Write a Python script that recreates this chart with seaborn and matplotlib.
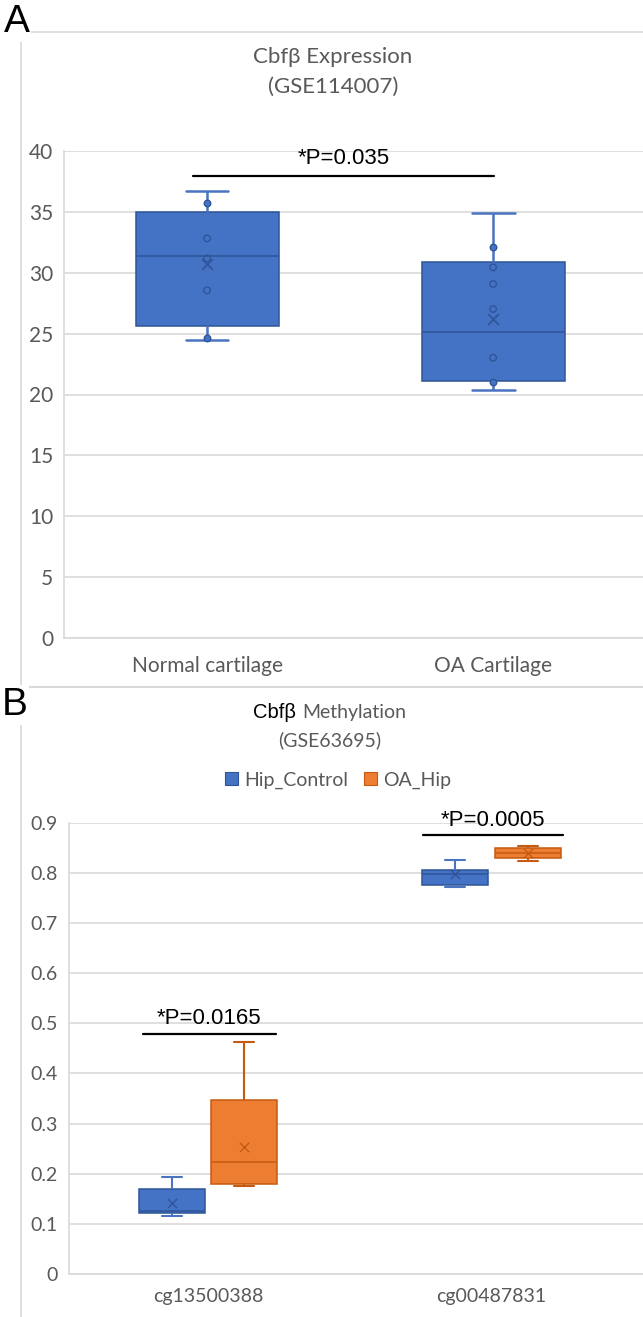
import numpy as np
import pandas as pd
import matplotlib
matplotlib.use("Agg")
import matplotlib.pyplot as plt
from matplotlib.lines import Line2D
from matplotlib.patches import Patch
import seaborn as sns

# ---------------- Panel A data (five-number summaries) ----------------
a_categories = ["Normal cartilage", "OA Cartilage"]
a_min = [24.45, 20.37]
a_q1 = [25.6, 21.1]
a_median = [31.35, 25.1]
a_q3 = [34.95, 30.84]
a_max = [36.67, 34.91]
a_mean = [30.68, 26.19]
a_points_normal = [35.68, 32.81, 31.17, 28.55, 24.66]
a_filled_normal = [True, False, False, False, True]
a_points_oa = [32.07, 30.43, 29.06, 27.01, 23.02, 21.05]
a_filled_oa = [True, False, False, False, False, True]
a_yticks = [0, 5, 10, 15, 20, 25, 30, 35, 40]
a_pvalue = "*P=0.035"

# ---------------- Panel B data ----------------
b_probes = ["cg13500388", "cg00487831"]
b_groups = ["Hip_Control", "OA_Hip"]
b_control_min = [0.116, 0.772]
b_control_q1 = [0.122, 0.776]
b_control_median = [0.126, 0.797]
b_control_q3 = [0.170, 0.806]
b_control_max = [0.194, 0.826]
b_control_mean = [0.142, 0.797]
b_oa_min = [0.176, 0.824]
b_oa_q1 = [0.179, 0.829]
b_oa_median = [0.223, 0.839]
b_oa_q3 = [0.347, 0.849]
b_oa_max = [0.462, 0.854]
b_oa_mean = [0.254, 0.840]
b_yticks = [0, 0.1, 0.2, 0.3, 0.4, 0.5, 0.6, 0.7, 0.8, 0.9]
b_ytick_labels = ["0", "0.1", "0.2", "0.3", "0.4", "0.5", "0.6", "0.7", "0.8", "0.9"]
b_pvalues = ["*P=0.0165", "*P=0.0005"]

# ---------------- styling ----------------
BLUE = "#4472C4"
BLUE_DARK = "#2F5597"
ORANGE = "#ED7D31"
ORANGE_DARK = "#C55A11"
GRID = "#D9D9D9"
TXT = "#595959"
ARIAL = ["Liberation Sans", "DejaVu Sans"]

sns.set_theme(style="white")
plt.rcParams["font.family"] = ["Lato", "DejaVu Sans"]

W, H = 643, 1317
fig = plt.figure(figsize=(W / 100, H / 100), dpi=100)


def fx(px):
    return px / W


def fy(py):
    return 1 - py / H


def style_container(cont, edge, whisker, cap_frac=0.3, wlw=1.6):
    """Excel-like colours and short caps for a seaborn BoxPlotContainer."""
    for box in cont.boxes:
        box.set_edgecolor(edge)
    for med in cont.medians:
        med.set_color(edge)
    for w in cont.whiskers:
        w.set_color(whisker)
        w.set_linewidth(wlw)
    boxes = list(cont.boxes)
    caps = list(cont.caps)
    for j, cap in enumerate(caps):
        box = boxes[j // 2]
        xs = box.get_path().vertices[:, 0]
        c = (xs.min() + xs.max()) / 2
        hw = (xs.max() - xs.min()) * cap_frac / 2
        cap.set_xdata([c - hw, c + hw])
        cap.set_color(whisker)
        cap.set_linewidth(wlw)


# long-form tables built from the summaries
rows = []
for i, c in enumerate(a_categories):
    for v in (a_min[i], a_q1[i], a_median[i], a_q3[i], a_max[i]):
        rows.append({"category": c, "value": v})
dfA = pd.DataFrame(rows)

rows = []
for i, p in enumerate(b_probes):
    for v in (b_control_min[i], b_control_q1[i], b_control_median[i], b_control_q3[i], b_control_max[i]):
        rows.append({"probe": p, "group": b_groups[0], "value": v})
    for v in (b_oa_min[i], b_oa_q1[i], b_oa_median[i], b_oa_q3[i], b_oa_max[i]):
        rows.append({"probe": p, "group": b_groups[1], "value": v})
dfB = pd.DataFrame(rows)

# ---------------- Panel A ----------------
axA = fig.add_axes([fx(64.3), fy(638.3), fx(643 - 64.3), (638.3 - 150.7) / H])
sns.boxplot(data=dfA, x="category", y="value", order=a_categories, whis=(0, 100),
            width=0.5, color=BLUE, saturation=1, linecolor=BLUE_DARK, linewidth=1.1, ax=axA)
style_container(axA.containers[0], BLUE_DARK, "#4A74C0", cap_frac=0.3, wlw=1.8)

for i, (pts, filled) in enumerate([(a_points_normal, a_filled_normal), (a_points_oa, a_filled_oa)]):
    pts = np.array(pts)
    filled = np.array(filled)
    sns.scatterplot(x=np.full(filled.sum(), i), y=pts[filled], ax=axA, marker="o", s=22,
                    color=BLUE, edgecolor=BLUE_DARK, linewidth=1.0, zorder=5)
    sns.scatterplot(x=np.full((~filled).sum(), i), y=pts[~filled], ax=axA, marker="o", s=22,
                    facecolor="none", edgecolor=BLUE_DARK, linewidth=1.0, zorder=5)
sns.scatterplot(x=np.arange(len(a_categories)), y=a_mean, ax=axA, marker="x", s=60,
                color=BLUE_DARK, linewidth=1.2, zorder=6)

axA.set_ylim(0, 40)
axA.set_xlim(-0.499, 1.524)
axA.set_yticks(a_yticks)

# ---------------- Panel B ----------------
axB = fig.add_axes([fx(69), fy(1274), fx(643 - 69), (1274 - 822.7) / H])
sns.boxplot(data=dfB, x="probe", y="value", hue="group", order=b_probes, hue_order=b_groups,
            palette={b_groups[0]: BLUE, b_groups[1]: ORANGE}, saturation=1,
            whis=(0, 100), width=0.512, gap=0.09, linecolor=BLUE_DARK, linewidth=1.1,
            legend=False, ax=axB)
style_container(axB.containers[0], BLUE_DARK, "#4A74C0", cap_frac=0.3, wlw=1.5)
style_container(axB.containers[1], ORANGE_DARK, ORANGE_DARK, cap_frac=0.3, wlw=1.5)

off = 0.128
sns.scatterplot(x=np.arange(len(b_probes)) - off, y=b_control_mean, ax=axB, marker="x", s=45,
                color=BLUE_DARK, linewidth=1.0, zorder=6)
sns.scatterplot(x=np.arange(len(b_probes)) + off, y=b_oa_mean, ax=axB, marker="x", s=45,
                color=ORANGE_DARK, linewidth=1.0, zorder=6)

axB.set_ylim(0, 0.9)
axB.set_xlim(-0.4903, 1.534)
axB.set_yticks(b_yticks, labels=b_ytick_labels)

# ---------------- common axis styling ----------------
for ax, xpad in [(axA, 13), (axB, 10)]:
    ax.set_xlabel("")
    ax.set_ylabel("")
    ax.grid(axis="y", color=GRID, linewidth=1.2)
    ax.grid(axis="x", visible=False)
    ax.set_axisbelow(True)
    for s in ("top", "right"):
        ax.spines[s].set_visible(False)
    for s in ("left", "bottom"):
        ax.spines[s].set_color(GRID)
        ax.spines[s].set_linewidth(1.2)
    ax.tick_params(axis="both", length=0, colors=TXT, labelsize=15)
    ax.tick_params(axis="y", pad=8)
    ax.tick_params(axis="x", pad=xpad)
axB.tick_params(axis="both", labelsize=14)

# ---------------- significance annotations ----------------
axA.plot([-0.049, 1.003], [37.9, 37.9], color="black", linewidth=1.6, clip_on=False)
axA.text(0.477, 39.4, a_pvalue, ha="center", va="center", fontsize=16, family=ARIAL, color="black")

axB.plot([-0.229, 0.240], [0.479, 0.479], color="black", linewidth=1.6, clip_on=False)
axB.text(0.004, 0.509, b_pvalues[0], ha="center", va="center", fontsize=16, family=ARIAL, color="black")
axB.plot([0.758, 1.252], [0.8755, 0.8755], color="black", linewidth=1.6, clip_on=False)
axB.text(1.005, 0.905, b_pvalues[1], ha="center", va="center", fontsize=16, family=ARIAL,
         color="black", clip_on=False)

# ---------------- titles & legend ----------------
fig.text(fx(333), fy(57), "Cbfβ Expression", ha="center", va="center", fontsize=16, color=TXT)
fig.text(fx(333), fy(87), "(GSE114007)", ha="center", va="center", fontsize=16, color=TXT)

fig.text(fx(296), fy(712), "Cbfβ", ha="right", va="center", fontsize=14.5, color="black", family=ARIAL)
fig.text(fx(302), fy(712), "Methylation", ha="left", va="center", fontsize=14, color=TXT)
fig.text(fx(330), fy(740), "(GSE63695)", ha="center", va="center", fontsize=14, color=TXT)

handles = [Patch(facecolor=BLUE, edgecolor=BLUE_DARK, linewidth=0.8),
           Patch(facecolor=ORANGE, edgecolor=ORANGE_DARK, linewidth=0.8)]
fig.legend(handles, b_groups, loc="center", bbox_to_anchor=(fx(338), fy(780)), ncol=2,
           frameon=False, fontsize=14, labelcolor=TXT, handlelength=0.7, handleheight=0.7,
           handletextpad=0.3, columnspacing=0.8)

# ---------------- panel frame & letters ----------------
fig.add_artist(Line2D([fx(21), fx(21)], [fy(32), fy(H)], color=GRID, linewidth=1.2))
fig.add_artist(Line2D([fx(21), fx(643)], [fy(32), fy(32)], color=GRID, linewidth=1.2))
fig.add_artist(Line2D([fx(21), fx(643)], [fy(687), fy(687)], color=GRID, linewidth=1.5))
fig.text(fx(4), fy(22), "A", ha="left", va="center", fontsize=28, color="black", family=ARIAL,
         bbox=dict(facecolor="white", edgecolor="none", pad=1))
fig.text(fx(2), fy(705), "B", ha="left", va="center", fontsize=28, color="black", family=ARIAL,
         bbox=dict(facecolor="white", edgecolor="none", pad=1))

fig.savefig("out.png", dpi=100, facecolor="white")
